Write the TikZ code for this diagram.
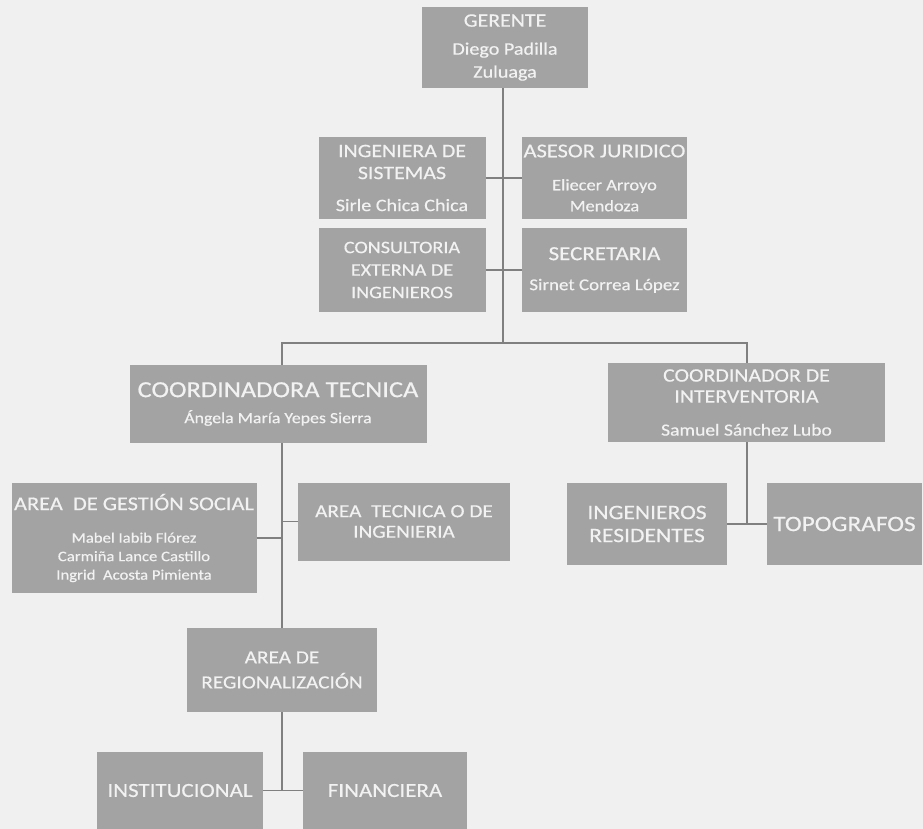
\documentclass[tikz,border=0pt]{standalone}
\usepackage{fontspec}
\setmainfont[FakeStretch=1.15,FakeBold=0.5]{Carlito}
\definecolor{bgc}{gray}{0.94}
\definecolor{boxc}{gray}{0.64}
\definecolor{txtc}{gray}{0.95}
\definecolor{linec}{gray}{0.50}
\newcommand{\fsz}[2]{\fontsize{#1}{#2}\selectfont}
\begin{document}
\begin{tikzpicture}[x=1pt,y=-1pt,
  orgbox/.style={fill=boxc,text=txtc,inner sep=0pt,align=center,anchor=center},
  conn/.style={draw=linec,line width=2pt},
  tick/.style={draw=linec,line width=1.6pt}]
\fill[bgc] (0,0) rectangle (923,829);
\useasboundingbox (0,0) rectangle (923,829);

% top
\node[orgbox,minimum width=166,minimum height=81,font=\fsz{17.5}{23}] (ger) at (505,47.5)
  {{\fsz{19}{23}GERENTE}\\[5pt]Diego Padilla\\Zuluaga};

\node[orgbox,minimum width=167,minimum height=81,font=\fsz{17.5}{22}] (ing) at (402,178)
  {{\fsz{19}{22}INGENIERA DE}\\{\fsz{19}{22}SISTEMAS}\\[10pt]Sirle Chica Chica};
\node[orgbox,minimum width=165,minimum height=81,font=\fsz{16}{21}] (ase) at (604.5,178)
  {{\fsz{19.5}{22}ASESOR JURIDICO}\\[12pt]Eliecer Arroyo\\Mendoza};
\node[orgbox,minimum width=167,minimum height=84,font=\fsz{17.5}{22.5}] (con) at (402,270)
  {CONSULTORIA\\EXTERNA DE\\INGENIEROS};
\node[orgbox,minimum width=165,minimum height=84,font=\fsz{16.5}{21}] (sec) at (604.5,270)
  {{\fsz{20}{22}SECRETARIA}\\[9pt]Sirnet Correa López};

\coordinate (j1) at (503,343);

% coordinators
\node[orgbox,minimum width=297,minimum height=78,font=\fsz{15.5}{21}] (ct) at (278,404)
  {{\fsz{23}{25}COORDINADORA TECNICA}\\[5pt]Ángela María Yepes Sierra};
\node[orgbox,minimum width=277,minimum height=79,font=\fsz{17}{21}] (ci) at (746.5,402.5)
  {{\fsz{19}{21}COORDINADOR DE}\\{\fsz{19}{21}INTERVENTORIA}\\[12pt]Samuel Sánchez Lubo};

% second level left
\node[orgbox,minimum width=245,minimum height=110,font=\fsz{14.5}{18.5}] (gest) at (134,538)
  {{\fsz{19.5}{22}AREA\ \ DE GESTIÓN SOCIAL}\\[14pt]Mabel Iabib Flórez\\Carmiña Lance Castillo\\Ingrid\ \ Acosta Pimienta};
\node[orgbox,minimum width=212,minimum height=78,font=\fsz{18.5}{20.5}] (tec) at (404,521.5)
  {AREA\ \ TECNICA O DE\\INGENIERIA};

% second level right
\node[orgbox,minimum width=160,minimum height=82,font=\fsz{20.5}{23}] (res) at (647,524)
  {INGENIEROS\\RESIDENTES};
\node[orgbox,minimum width=155,minimum height=82,font=\fsz{22}{24}] (topo) at (844.5,524)
  {TOPOGRAFOS};

% regionalization
\node[orgbox,minimum width=190,minimum height=84,font=\fsz{18.5}{25}] (reg) at (282,670)
  {AREA DE\\REGIONALIZACIÓN};
\node[orgbox,minimum width=166,minimum height=77,font=\fsz{20}{22}] (inst) at (180,790.5)
  {INSTITUCIONAL};
\node[orgbox,minimum width=164,minimum height=77,font=\fsz{20}{22}] (fin) at (385,790.5)
  {FINANCIERA};

% connectors
\draw[conn] (ger.south -| j1) -- (j1);
\draw[tick] (ing.east) -- (ase.west);
\draw[tick] (con.east) -- (sec.west);
\draw[conn] (reg.north |- ct.north) -- (reg.north |- j1) -- (ci.north |- j1) -- (ci.north);
\draw[conn] (reg.north |- ct.south) -- (reg.north);
\draw[tick] (tec.west) -- (tec.west -| reg.north);
\draw[tick] (gest.east) -- (gest.east -| reg.north);
\draw[conn] (ci.south) -- (ci.south |- res.east);
\draw[tick] (res.east) -- (topo.west);
\draw[conn] (reg.south) -- (reg.south |- inst.east);
\draw[tick] (inst.east) -- (fin.west);
\end{tikzpicture}
\end{document}
